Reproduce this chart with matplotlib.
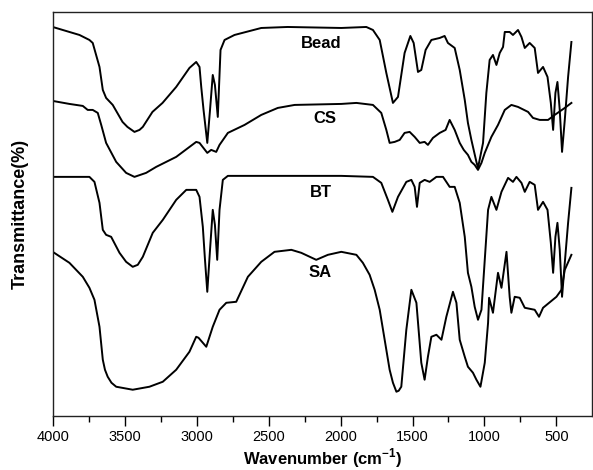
import matplotlib
matplotlib.use("Agg")
import matplotlib.pyplot as plt
from matplotlib.ticker import MultipleLocator

plt.rcParams['font.family'] = ['Liberation Sans', 'DejaVu Sans']
plt.rcParams['mathtext.fontset'] = 'custom'
plt.rcParams['mathtext.rm'] = 'Liberation Sans:bold'
plt.rcParams['mathtext.bf'] = 'Liberation Sans:bold'

# ---- data (wavenumber cm-1, transmittance in arbitrary offset units) ----
bead_w = [4000, 3814, 3745, 3722, 3675, 3652, 3629, 3583, 3515, 3481, 3432, 3397, 3374, 3307, 3237, 3142, 3050, 3003,
          2980, 2968, 2952, 2926, 2907, 2888, 2873, 2853, 2834, 2806, 2737, 2551, 2368, 1995, 1821, 1775,
          1728, 1682, 1636, 1601, 1555, 1515, 1492, 1462, 1439, 1409, 1369, 1311, 1277, 1254, 1207, 1172,
          1137, 1115, 1091, 1056, 1045, 1010, 987, 964, 941, 917, 894, 871, 859, 825, 802, 767, 743, 720,
          686, 651, 628, 593, 562, 539, 523, 507, 493, 477, 461, 442, 419, 396]
bead_t = [389, 381, 376, 373, 349, 326, 318, 311, 294, 289, 284, 286, 289, 304, 313, 329, 348, 354,
          349, 329, 306, 273, 306, 341, 331, 299, 366, 376, 381, 388, 389, 388, 389, 386,
          376, 343, 313, 319, 363, 380, 373, 344, 346, 366, 376, 378, 380, 373, 368, 346,
          316, 293, 276, 254, 248, 273, 323, 356, 361, 351, 363, 369, 384, 384, 381, 386, 379, 368,
          373, 368, 343, 349, 339, 313, 286, 323, 334, 306, 264, 296, 339, 374]

cs_w = [4000, 3884, 3791, 3757, 3722, 3687, 3663, 3629, 3559, 3490, 3432, 3351, 3281, 3142, 3003, 2980,
        2926, 2899, 2864, 2841, 2783, 2667, 2551, 2436, 2319, 1995, 1890, 1775, 1717, 1682, 1659, 1624,
        1589, 1555, 1520, 1485, 1450, 1416, 1393, 1358, 1311, 1270, 1242, 1207, 1172, 1144, 1115, 1091,
        1068, 1045, 1021, 998, 952, 906, 859, 813, 767, 697, 663, 616, 558, 512, 442, 396]
cs_t = [315, 312, 310, 306, 306, 303, 291, 273, 254, 243, 239, 243, 249, 259, 274, 273,
        263, 266, 264, 271, 283, 291, 301, 308, 311, 312, 313, 311, 303, 286, 273, 274,
        276, 283, 284, 279, 273, 274, 271, 278, 283, 286, 296, 286, 273, 266, 261, 254,
        251, 246, 253, 263, 279, 291, 306, 311, 309, 304, 298, 296, 296, 301, 308, 313]

bt_w = [4000, 3745, 3710, 3675, 3652, 3629, 3594, 3536, 3490, 3444, 3409, 3374, 3305, 3235, 3142, 3072, 3003, 2980,
        2957, 2942, 2926, 2907, 2888, 2873, 2857, 2841, 2818, 2783, 1995, 1775, 1717, 1671, 1640, 1601,
        1543, 1508, 1485, 1469, 1450, 1416, 1381, 1334, 1288, 1242, 1207, 1172, 1137, 1115, 1091, 1068,
        1045, 1021, 998, 975, 952, 917, 882, 836, 802, 778, 743, 720, 686, 651, 628, 593, 562, 539,
        523, 507, 493, 477, 461, 442, 419, 396]
bt_t = [239, 239, 234, 213, 186, 181, 179, 163, 154, 149, 151, 159, 183, 196, 216, 226, 226, 219,
        189, 156, 124, 166, 206, 191, 156, 206, 236, 240, 240, 239, 233, 216, 204, 219,
        234, 236, 229, 209, 233, 236, 234, 239, 239, 229, 229, 213, 179, 143, 129, 109,
        96, 106, 156, 206, 219, 206, 224, 238, 234, 239, 233, 224, 234, 231, 206, 214, 206, 173,
        143, 179, 193, 166, 119, 153, 193, 228]

sa_w = [4000, 3884, 3791, 3745, 3710, 3675, 3652, 3637, 3618, 3592, 3559, 3444, 3328, 3235, 3142, 3050, 3003, 2987,
        2933, 2888, 2841, 2794, 2725, 2644, 2551, 2459, 2342, 2273, 2169, 2088, 1995, 1890, 1845, 1798, 1763, 1728,
        1682, 1659, 1636, 1612, 1596, 1578, 1543, 1508, 1473, 1439, 1416, 1393, 1369, 1334, 1299, 1265, 1219, 1195,
        1172, 1137, 1115, 1080, 1056, 1028, 998, 975, 968, 941, 906, 882, 847, 825, 813, 790, 755, 720,
        651, 621, 593, 500, 465, 442, 396]
sa_t = [164, 153, 139, 128, 116, 89, 56, 46, 39, 33, 29, 26, 29, 34, 46, 64, 79, 78,
        69, 89, 106, 113, 114, 139, 154, 164, 166, 163, 156, 161, 164, 161, 153, 141, 126, 106,
        66, 46, 33, 24, 25, 29, 86, 126, 113, 53, 36, 59, 79, 81, 76, 99, 124, 113,
        76, 59, 49, 43, 36, 29, 53, 93, 118, 103, 143, 128, 164, 119, 103, 119, 118, 108,
        106, 99, 108, 119, 126, 146, 161]

names = ['Bead', 'CS', 'BT', 'SA']
label_w = [2135, 2107, 2134, 2139]
label_t = [372, 297, 223, 143]
x_ticks = [4000, 3500, 3000, 2500, 2000, 1500, 1000, 500]

# ---- figure ----
fig = plt.figure(figsize=(5.93, 4.70), dpi=100)
ax = fig.add_axes([0.0889, 0.1155, 0.9089, 0.859])

for w, t in [(bead_w, bead_t), (cs_w, cs_t), (bt_w, bt_t), (sa_w, sa_t)]:
    ax.plot(w, t, color='black', lw=1.4, solid_joinstyle='round')

for n, lw_, lt in zip(names, label_w, label_t):
    ax.text(lw_, lt, n, fontsize=12, fontweight='bold', ha='center', va='center')

ax.set_xlim(4000, 255)
ax.set_ylim(0, 404)
ax.set_xticks(x_ticks)
ax.set_xticklabels([str(v) for v in x_ticks], fontsize=10.5)
ax.xaxis.set_minor_locator(MultipleLocator(250))
ax.tick_params(axis='x', which='major', direction='out', length=7, width=1, pad=3)
ax.tick_params(axis='x', which='minor', direction='out', length=4, width=1)
ax.set_yticks([])
for s in ax.spines.values():
    s.set_linewidth(1.0)
    s.set_color('#222222')

ax.set_xlabel(r'Wavenumber (cm$^{\mathbf{-1}}$)', fontsize=12, fontweight='bold', labelpad=2)
ax.set_ylabel('Transmittance(%)', fontsize=13, fontweight='bold', labelpad=17)

fig.savefig('out.png', dpi=100)
